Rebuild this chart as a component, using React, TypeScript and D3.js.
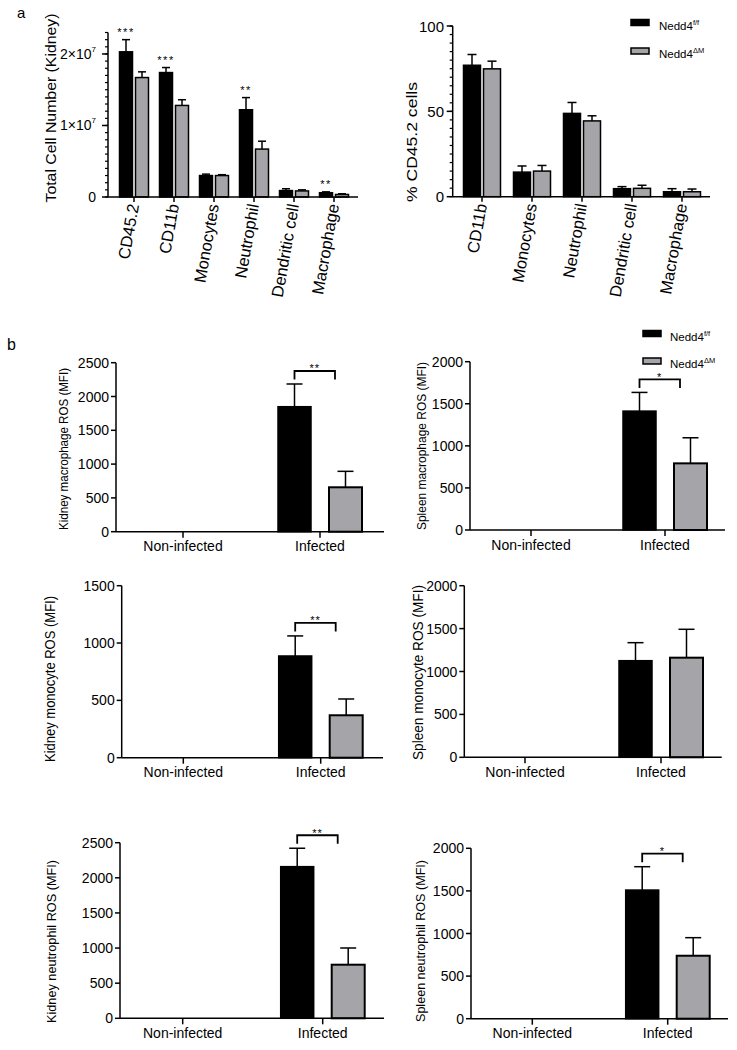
import React from "react";
import * as d3 from "d3";

const FONT = '"Liberation Sans", Arial, Helvetica, sans-serif';
const BLACK = "#000000";
const GRAY = "#a5a5a9";

// ---------- Panel a (left): total cell number ----------
const aCats1 = ["CD45.2", "CD11b", "Monocytes", "Neutrophil", "Dendritic cell", "Macrophage"];
const aFlox1 = [2.03e7, 1.74e7, 0.30e7, 1.22e7, 0.09e7, 0.06e7];
const aFloxErr1 = [0.17e7, 0.07e7, 0.02e7, 0.17e7, 0.025e7, 0.012e7];
const aDm1 = [1.67e7, 1.28e7, 0.30e7, 0.67e7, 0.085e7, 0.035e7];
const aDmErr1 = [0.08e7, 0.08e7, 0.012e7, 0.11e7, 0.015e7, 0.01e7];
const aStars1 = ["***", "***", "", "**", "", "**"];
const aMajor1 = [0, 1e7, 2e7];
const aMajorMant1 = ["0", "1×10", "2×10"];

// ---------- Panel a (right): % CD45.2 cells ----------
const aCats2 = ["CD11b", "Monocytes", "Neutrophil", "Dendritic cell", "Macrophage"];
const aFlox2 = [77, 14.4, 48.8, 4.7, 2.9];
const aFloxErr2 = [6.3, 3.6, 6.4, 1.2, 1.8];
const aDm2 = [74.9, 15.0, 44.4, 4.9, 2.9];
const aDmErr2 = [4.5, 3.3, 3.0, 1.8, 1.6];
const aMajor2 = [0, 50, 100];

// ---------- Panel b: ROS (MFI) ----------
const bGroups = ["Non-infected", "Infected"];
const legendNames = ["Nedd4", "Nedd4"];
const legendSups = ["f/f", "ΔM"];

const b1Flox = [0, 1849]; const b1FloxErr = [0, 336];
const b1Dm = [0, 657]; const b1DmErr = [0, 236];
const b2Flox = [0, 1413]; const b2FloxErr = [0, 222];
const b2Dm = [0, 792]; const b2DmErr = [0, 304];
const b3Flox = [0, 887]; const b3FloxErr = [0, 175];
const b3Dm = [0, 370]; const b3DmErr = [0, 142];
const b4Flox = [0, 1126]; const b4FloxErr = [0, 210];
const b4Dm = [0, 1161]; const b4DmErr = [0, 331];
const b5Flox = [0, 2159]; const b5FloxErr = [0, 262];
const b5Dm = [0, 763]; const b5DmErr = [0, 238];
const b6Flox = [0, 1510]; const b6FloxErr = [0, 274];
const b6Dm = [0, 739]; const b6DmErr = [0, 212];

const bTicks2500 = [0, 500, 1000, 1500, 2000, 2500];
const bTicks2000 = [0, 500, 1000, 1500, 2000];
const bTicks1500 = [0, 500, 1000, 1500];

const bTitles = [
  "Kidney macrophage ROS (MFI)",
  "Spleen macrophage ROS (MFI)",
  "Kidney monocyte ROS (MFI)",
  "Spleen monocyte ROS (MFI)",
  "Kidney neutrophil ROS (MFI)",
  "Spleen neutrophil ROS (MFI)",
];
const bStars = ["**", "*", "**", "", "**", "*"];

// ---------- components ----------
function ErrBar({ x, y0, y1, cap }: any) {
  return (
    <g stroke={BLACK} strokeWidth={1.5}>
      <line x1={x} x2={x} y1={y0} y2={y1} />
      <line x1={x - cap / 2} x2={x + cap / 2} y1={y1} y2={y1} />
    </g>
  );
}

function PanelA(props: any) {
  const { cats, flox, floxErr, dm, dmErr, stars, L } = props;
  const x = d3.scaleBand<string>().domain(cats).range(L.band).paddingInner(0).paddingOuter(0);
  const y = d3.scaleLinear().domain([0, L.yMax]).range([L.base, L.topPx]);
  const minors = d3.range(0, L.yMax + L.minorStep * 0.01, L.minorStep);
  return (
    <g fontFamily={FONT}>
      {cats.map((c: string, i: number) => {
        const cx = (x(c) as number) + x.bandwidth() / 2;
        const bx0 = cx + L.off[0][0], bx1 = cx + L.off[0][1];
        const gx0 = cx + L.off[1][0], gx1 = cx + L.off[1][1];
        const bc = (bx0 + bx1) / 2, gc = (gx0 + gx1) / 2;
        const topB = y(flox[i] + floxErr[i]);
        return (
          <g key={c}>
            <ErrBar x={bc} y0={y(flox[i])} y1={topB} cap={L.cap} />
            <ErrBar x={gc} y0={y(dm[i])} y1={y(dm[i] + dmErr[i])} cap={L.cap} />
            <rect x={bx0} y={y(flox[i])} width={bx1 - bx0} height={L.base - y(flox[i])} fill={BLACK} stroke={BLACK} strokeWidth={1.5} />
            <rect x={gx0} y={y(dm[i])} width={gx1 - gx0} height={L.base - y(dm[i])} fill={GRAY} stroke={BLACK} strokeWidth={1.5} />
            {stars && stars[i] ? (
              <text x={bc} y={topB - 10 + 6} fontSize={11} textAnchor="middle" letterSpacing={1.5}>{stars[i]}</text>
            ) : null}
            <line x1={cx} x2={cx} y1={L.base} y2={L.base + 5} stroke={BLACK} strokeWidth={1.5} />
            <text transform={`translate(${cx + 5},${L.base + 8}) rotate(-80)`} textAnchor="end" fontSize={L.xfs}>{c}</text>
          </g>
        );
      })}
      {/* axes */}
      <line x1={L.x0} x2={L.x0} y1={L.base} y2={y(L.yMax)} stroke={BLACK} strokeWidth={1.5} />
      <line x1={L.x0} x2={L.x1} y1={L.base} y2={L.base} stroke={BLACK} strokeWidth={1.5} />
      {minors.map((v: number, i: number) => (
        <line key={"m" + i} x1={L.x0 - 3} x2={L.x0} y1={y(v)} y2={y(v)} stroke={BLACK} strokeWidth={1.2} />
      ))}
      {L.majors.map((v: number, i: number) => (
        <g key={"M" + i}>
          <line x1={L.x0 - 6} x2={L.x0} y1={y(v)} y2={y(v)} stroke={BLACK} strokeWidth={1.5} />
          {L.mant ? (
            <text x={L.tickX} y={y(v) + 5} fontSize={L.tfs} textAnchor="end">
              {L.mant[i]}
              {v !== 0 ? <tspan fontSize={8} dy={-7}>7</tspan> : null}
            </text>
          ) : (
            <text x={L.tickX} y={y(v) + 5.5} fontSize={L.tfs} textAnchor="end">{String(v)}</text>
          )}
        </g>
      ))}
      <text transform={`translate(${L.ylx},${L.yly}) rotate(-90)`} textAnchor="middle" fontSize={L.yfs}
        textLength={L.ylen} lengthAdjust="spacingAndGlyphs">{L.ylabel}</text>
    </g>
  );
}

function PanelB(props: any) {
  const { flox, floxErr, dm, dmErr, star, title, L, ticks } = props;
  const x = d3.scalePoint<string>().domain(bGroups).range(L.centers);
  const y = d3.scaleLinear().domain([0, ticks[ticks.length - 1]]).range([L.base, L.topPx]);
  return (
    <g fontFamily={FONT}>
      {bGroups.map((g, i) => {
        const cx = x(g) as number;
        const bx0 = cx - 42, bx1 = cx - 9, gx0 = cx + 9, gx1 = cx + 42;
        const bc = (bx0 + bx1) / 2, gc = (gx0 + gx1) / 2;
        const hasBars = flox[i] > 0 || dm[i] > 0;
        const brTop = y(flox[i] + floxErr[i]) - 13;
        return (
          <g key={g}>
            {hasBars ? (
              <g>
                <ErrBar x={bc} y0={y(flox[i])} y1={y(flox[i] + floxErr[i])} cap={16} />
                <ErrBar x={gc} y0={y(dm[i])} y1={y(dm[i] + dmErr[i])} cap={16} />
                <rect x={bx0} y={y(flox[i])} width={bx1 - bx0} height={L.base - y(flox[i])} fill={BLACK} stroke={BLACK} strokeWidth={1.5} />
                <rect x={gx0} y={y(dm[i])} width={gx1 - gx0} height={L.base - y(dm[i])} fill={GRAY} stroke={BLACK} strokeWidth={2} />
                {star ? (
                  <g>
                    <path d={`M${bc},${brTop + 8.5}V${brTop}H${gx0 + 6}V${brTop + 8.5}`} fill="none" stroke={BLACK} strokeWidth={1.8} />
                    <text x={(bc + gx0 + 6) / 2} y={brTop - 5 + 6.5} fontSize={11} textAnchor="middle" letterSpacing={1}>{star}</text>
                  </g>
                ) : null}
              </g>
            ) : null}
            <line x1={cx} x2={cx} y1={L.base} y2={L.base + 6} stroke={BLACK} strokeWidth={1.5} />
            <text x={cx} y={L.base + 19.5} fontSize={14} textAnchor="middle">{g}</text>
          </g>
        );
      })}
      <line x1={L.x0} x2={L.x0} y1={L.base} y2={L.topPx} stroke={BLACK} strokeWidth={1.5} />
      <line x1={L.x0} x2={L.x1} y1={L.base} y2={L.base} stroke={BLACK} strokeWidth={1.5} />
      {ticks.map((v: number) => (
        <g key={v}>
          <line x1={L.x0 - 5} x2={L.x0} y1={y(v)} y2={y(v)} stroke={BLACK} strokeWidth={1.5} />
          <text x={L.x0 - 7} y={y(v) + 5} fontSize={14} textAnchor="end">{String(v)}</text>
        </g>
      ))}
      <text transform={`translate(${L.ylx + 0.35 * L.yfs},${L.yly}) rotate(-90)`} textAnchor="middle" fontSize={L.yfs}
        textLength={L.ylen} lengthAdjust="spacingAndGlyphs">{title}</text>
    </g>
  );
}

function Legend({ x, y, tx, gap }: any) {
  return (
    <g fontFamily={FONT}>
      {legendNames.map((n, i) => (
        <g key={i}>
          <rect x={x} y={y + i * gap} width={18} height={6} fill={i === 0 ? BLACK : GRAY} stroke={BLACK} strokeWidth={1.5} />
          <text x={tx} y={y + i * gap + 10} fontSize={11.5}>
            {n}
            <tspan fontSize={7.5} dy={-5}>{legendSups[i]}</tspan>
          </text>
        </g>
      ))}
    </g>
  );
}

const LA1 = {
  band: [114, 354], base: 197, topPx: 32.5, yMax: 2.3e7, minorStep: 1e6, majors: aMajor1, mant: aMajorMant1,
  x0: 108, x1: 358, off: [[-14.5, -1.5], [1.5, 14.5]], cap: 8, xfs: 16.5, tfs: 14, tickX: 96,
  ylx: 55.5, yly: 108, ylen: 189, yfs: 15.5, ylabel: "Total Cell Number (Kidney)",
};
const LA2 = {
  band: [457, 707], base: 196.7, topPx: 26, yMax: 100, minorStep: 5, majors: aMajor2, mant: null,
  x0: 452.7, x1: 710, off: [[-18.5, -1.5], [1.5, 18.5]], cap: 9, xfs: 16.5, tfs: 15, tickX: 444,
  ylx: 417, yly: 142, ylen: 120, yfs: 15.5, ylabel: "% CD45.2 cells",
};

const LB = [
  { x0: 116, x1: 384, base: 531.7, topPx: 362.7, centers: [183, 320], ylx: 64, yly: 449, ylen: 162, yfs: 12.5 },
  { x0: 470, x1: 725, base: 530, topPx: 361.7, centers: [531, 665], ylx: 421.7, yly: 446, ylen: 168, yfs: 12.5 },
  { x0: 121.7, x1: 383, base: 757.7, topPx: 585.7, centers: [183.3, 320.7], ylx: 50, yly: 679, ylen: 166, yfs: 14 },
  { x0: 464.3, x1: 721.7, base: 757.3, topPx: 585.7, centers: [525, 661], ylx: 418.3, yly: 672.5, ylen: 175, yfs: 14 },
  { x0: 120, x1: 384, base: 1018.3, topPx: 842.7, centers: [182.7, 322.7], ylx: 51.7, yly: 941.5, ylen: 163, yfs: 12.5 },
  { x0: 471, x1: 728, base: 1018.7, topPx: 848.3, centers: [532.3, 667.7], ylx: 420, yly: 941, ylen: 162, yfs: 13.5 },
];

const bData = [
  [b1Flox, b1FloxErr, b1Dm, b1DmErr, bTicks2500],
  [b2Flox, b2FloxErr, b2Dm, b2DmErr, bTicks2000],
  [b3Flox, b3FloxErr, b3Dm, b3DmErr, bTicks1500],
  [b4Flox, b4FloxErr, b4Dm, b4DmErr, bTicks2000],
  [b5Flox, b5FloxErr, b5Dm, b5DmErr, bTicks2500],
  [b6Flox, b6FloxErr, b6Dm, b6DmErr, bTicks2000],
];

export default function App() {
  return (
    <svg width={737} height={1050} style={{ position: "absolute", left: 0, top: 0, background: "#fff" }}>
      <rect width={737} height={1050} fill="#fff" />
      <text x={17} y={18} fontFamily={FONT} fontSize={15}>a</text>
      <text x={7} y={350} fontFamily={FONT} fontSize={16}>b</text>
      <PanelA cats={aCats1} flox={aFlox1} floxErr={aFloxErr1} dm={aDm1} dmErr={aDmErr1} stars={aStars1} L={LA1} />
      <PanelA cats={aCats2} flox={aFlox2} floxErr={aFloxErr2} dm={aDm2} dmErr={aDmErr2} stars={null} L={LA2} />
      <Legend x={631} y={19.5} tx={659} gap={28.5} />
      <Legend x={643} y={330.5} tx={670} gap={27.5} />
      {bData.map((d: any, i: number) => (
        <PanelB key={i} flox={d[0]} floxErr={d[1]} dm={d[2]} dmErr={d[3]} ticks={d[4]} star={bStars[i]} title={bTitles[i]} L={LB[i]} />
      ))}
    </svg>
  );
}
